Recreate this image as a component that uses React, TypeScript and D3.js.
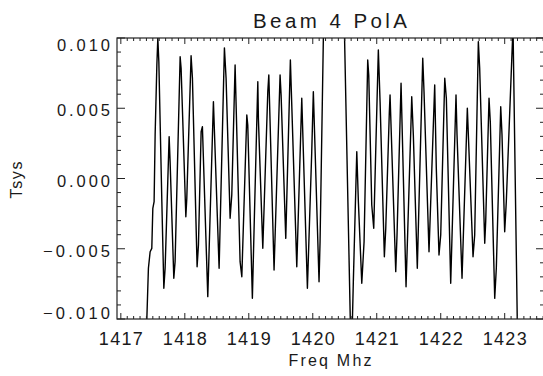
import React from "react";
import * as d3 from "d3";

const TITLE = "Beam 4 PolA";
const X_LABEL = "Freq Mhz";
const Y_LABEL = "Tsys";

const X_DOMAIN = [1416.94, 1423.63];
const Y_DOMAIN = [-0.01, 0.01];

const X_TICKS = [1417, 1418, 1419, 1420, 1421, 1422, 1423];
const Y_TICKS = [-0.01, -0.005, 0, 0.005, 0.01];
const Y_TICK_LABELS = ["\u22120.010", "\u22120.005", "0.000", "0.005", "0.010"];

const FREQ = [
  1417.403, 1417.431, 1417.458, 1417.484, 1417.5, 1417.52, 1417.536, 1417.563, 1417.578, 1417.594,
  1417.641, 1417.672, 1417.692, 1417.755, 1417.77, 1417.828, 1417.848, 1417.927, 1417.942, 1418.016,
  1418.031, 1418.098, 1418.119, 1418.192, 1418.213, 1418.255, 1418.275, 1418.359, 1418.447, 1418.536,
  1418.619, 1418.645, 1418.708, 1418.734, 1418.786, 1418.864, 1418.891, 1418.969, 1418.984, 1419.056,
  1419.088, 1419.141, 1419.15, 1419.219, 1419.297, 1419.313, 1419.395, 1419.489, 1419.505, 1419.578,
  1419.65, 1419.75, 1419.828, 1419.916, 1419.984, 1420.009, 1420.098, 1420.114, 1420.3125, 1420.602,
  1420.634, 1420.688, 1420.713, 1420.766, 1420.802, 1420.859, 1420.875, 1420.922, 1420.953, 1421.025,
  1421.052, 1421.119, 1421.141, 1421.197, 1421.208, 1421.297, 1421.317, 1421.38, 1421.458, 1421.536,
  1421.547, 1421.572, 1421.634, 1421.719, 1421.739, 1421.817, 1421.906, 1421.931, 1421.973, 1422.0,
  1422.063, 1422.088, 1422.156, 1422.239, 1422.255, 1422.333, 1422.416, 1422.505, 1422.531, 1422.588,
  1422.609, 1422.688, 1422.703, 1422.755, 1422.775, 1422.844, 1422.869, 1422.938, 1422.958, 1423.0,
  1423.025, 1423.13, 1423.208,
];

const TSYS = [
  -0.0105, -0.00639, -0.00521, -0.00497, -0.00212, -0.00165, 0.0031, 0.00808, 0.00998, 0.00831,
  -0.00165, -0.00781, -0.00639, 0.00298, 0.0012, -0.0071, -0.00592, 0.00867, 0.00784, -0.00272,
  -0.00141, 0.00874, 0.00713, -0.00628, -0.00473, 0.00333, 0.00369, -0.00841, 0.00547, -0.00639,
  0.0093, 0.00713, -0.00283, -0.00117, 0.00808, -0.00592, -0.00699, 0.00452, 0.00381, -0.00853,
  -0.0026, 0.00689, 0.00428, -0.00497, 0.00618, 0.00737, -0.00651, 0.00737, 0.00594, -0.00426,
  0.00843, -0.00628, 0.00571, -0.00781, 0.00191, 0.00618, -0.00735, -0.0045, 0.0513, -0.0135,
  -0.00735, 0.00191, -0.00165, -0.00746, -0.0045, 0.00843, 0.00737, -0.00189, -0.00354, 0.00915,
  0.00547, -0.00557, -0.00354, 0.00475, 0.00594, -0.00663, -0.00402, 0.00678, -0.0077, 0.00404,
  0.00582, 0.0031, -0.00639, 0.00856, 0.00618, -0.00521, 0.00665, 0.00073, -0.00544, -0.00402,
  0.00713, 0.00571, -0.00746, 0.00594, 0.0031, -0.0071, 0.005, -0.00557, -0.00402, 0.00974,
  0.00784, -0.00461, -0.00307, 0.00571, 0.00404, -0.00853, -0.00639, 0.00511, 0.0031, -0.00379,
  -0.00165, 0.0108, -0.0137,
];

const LEFT = 117;
const RIGHT = 545;
const TOP = 38;
const BOTTOM = 319;
const FONT = "'DejaVu Sans ExtraLight', 'Liberation Sans', Arial, sans-serif";

export default function App() {
  const x = d3.scaleLinear().domain(X_DOMAIN).range([LEFT, RIGHT]);
  const y = d3.scaleLinear().domain(Y_DOMAIN).range([BOTTOM, TOP]);

  const data = FREQ.map((f, i) => [f, TSYS[i]] as [number, number]);
  const line = d3
    .line<[number, number]>()
    .x((d) => x(d[0]))
    .y((d) => y(d[1]))
    .curve(d3.curveLinear);

  const xMinor = d3.range(Math.ceil(X_DOMAIN[0] * 10), Math.floor(X_DOMAIN[1] * 10) + 1).map((v) => v / 10);
  const yMinor = d3.range(-10, 11).map((v) => v / 1000);

  const axisColor = "#222";
  const textColor = "#1a1a1a";
  const labelY = (v: number) => Math.min(Math.max(y(v) + 2, TOP + 6.5), BOTTOM - 6);

  return (
    <svg width={543} height={376} style={{ position: "absolute", left: 0, top: 0, background: "#fff" }}>
      <defs>
        <clipPath id="plotclip">
          <rect x={LEFT} y={TOP} width={RIGHT - LEFT} height={BOTTOM - TOP} />
        </clipPath>
      </defs>
      <rect x={0} y={0} width={543} height={376} fill="#fff" />

      <path d={line(data) || ""} fill="none" stroke="#000" strokeWidth={1.4} strokeLinejoin="round" clipPath="url(#plotclip)" />

      {/* frame */}
      <rect x={LEFT} y={TOP} width={RIGHT - LEFT} height={BOTTOM - TOP} fill="none" stroke={axisColor} strokeWidth={1.2} />

      {/* x ticks */}
      {xMinor.map((v, i) => {
        const major = Math.abs(v - Math.round(v)) < 1e-6;
        const len = major ? 6 : 3;
        const px = x(v);
        return (
          <g key={"xm" + i}>
            <line x1={px} x2={px} y1={BOTTOM} y2={BOTTOM - len} stroke={axisColor} strokeWidth={1} />
            <line x1={px} x2={px} y1={TOP} y2={TOP + len} stroke={axisColor} strokeWidth={1} />
          </g>
        );
      })}
      {/* y ticks */}
      {yMinor.map((v, i) => {
        const major = i % 5 === 0;
        const len = major ? 8 : 4;
        const py = y(v);
        return (
          <g key={"ym" + i}>
            <line x1={LEFT} x2={LEFT + len} y1={py} y2={py} stroke={axisColor} strokeWidth={1} />
            <line x1={RIGHT - 1} x2={RIGHT - 1 - len} y1={py} y2={py} stroke={axisColor} strokeWidth={1} />
          </g>
        );
      })}

      {/* x tick labels */}
      {X_TICKS.map((v) => (
        <text key={"xl" + v} x={x(v)} y={345} textAnchor="middle" fontFamily={FONT} fontSize={18}
          textLength={44} lengthAdjust="spacing" fill={textColor}>
          {String(v)}
        </text>
      ))}
      {/* y tick labels */}
      {Y_TICKS.map((v, i) => {
        const label = Y_TICK_LABELS[i];
        const w = label.startsWith("\u2212") ? 67 : 53;
        return (
          <text key={"yl" + i} x={110 - w} y={labelY(v) + 6} textAnchor="start" fontFamily={FONT} fontSize={16.5}
            textLength={w} lengthAdjust="spacing" fill={textColor}>
            {label}
          </text>
        );
      })}

      {/* title */}
      <text x={330} y={28} textAnchor="middle" fontFamily={FONT} fontSize={20.5} textLength={154} lengthAdjust="spacing" fill={textColor}>
        {TITLE}
      </text>
      {/* x label */}
      <text x={330} y={366} textAnchor="middle" fontFamily={FONT} fontSize={16} textLength={83} lengthAdjust="spacing" fill={textColor}>
        {X_LABEL}
      </text>
      {/* y label */}
      <text transform={`translate(22,180) rotate(-90)`} textAnchor="middle" fontFamily={FONT} fontSize={16}
        textLength={37} lengthAdjust="spacing" fill={textColor}>
        {Y_LABEL}
      </text>
    </svg>
  );
}
